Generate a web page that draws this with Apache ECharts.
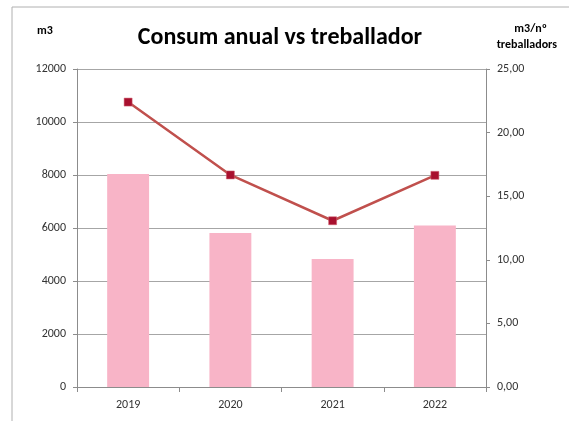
<!DOCTYPE html>
<html>
<head>
<meta charset="utf-8">
<script src="https://cdn.jsdelivr.net/npm/echarts@6/dist/echarts.min.js"></script>
<style>
  html, body { margin: 0; padding: 0; background: #fff; }
  #chart { width: 569px; height: 421px; }
</style>
</head>
<body>
<div id="chart"></div>
<script>
var years = ["2019", "2020", "2021", "2022"];
var consum = [8040, 5810, 4830, 6090];          // m3
var perWorker = [22.4, 16.67, 13.07, 16.64];    // m3/nº treballadors
var leftTicks = [0, 2000, 12000];               // min, interval, max
var rightTicks = [0, 5, 25];

var myChart = echarts.init(document.getElementById("chart"));
var font = "Carlito, Lato, 'Open Sans', sans-serif";

myChart.setOption({
  animation: false,
  textStyle: { fontFamily: font },
  graphic: [
    {
      type: "rect",
      shape: { x: 12, y: 7, width: 600, height: 450 },
      style: { fill: "none", stroke: "#b0b0b0", lineWidth: 1 },
      silent: true
    },
    {
      type: "text", left: 37, top: 25,
      style: { text: "m3", font: "bold 12px " + font, fill: "#000" }
    },
    {
      type: "text", right: 22, top: 23,
      style: { text: "m3/nº", font: "bold 12px " + font, fill: "#000", align: "right" }
    },
    {
      type: "text", right: 12, top: 39,
      style: { text: "treballadors", font: "bold 12px " + font, fill: "#000", align: "right" }
    }
  ],
  title: {
    text: "Consum anual vs treballador",
    left: 275, top: 21, textAlign: "center",
    textStyle: { fontSize: 24, fontWeight: "bold", color: "#000", fontFamily: font }
  },
  grid: { left: 77, right: 83, top: 69, bottom: 34 },
  xAxis: {
    type: "category",
    data: years,
    axisLine: { lineStyle: { color: "#8c8c8c" } },
    axisTick: { show: true, length: 5, lineStyle: { color: "#8c8c8c" } },
    axisLabel: { color: "#333", fontSize: 12, margin: 12 }
  },
  yAxis: [
    {
      type: "value",
      min: leftTicks[0], interval: leftTicks[1], max: leftTicks[2],
      axisLine: { show: true, lineStyle: { color: "#8c8c8c" } },
      axisTick: { show: true, length: 4, lineStyle: { color: "#8c8c8c" } },
      axisLabel: {
        color: "#333", fontSize: 12, margin: 11,
        formatter: function (v) { return String(v); }
      },
      splitLine: { show: true, lineStyle: { color: "#a6a6a6" } }
    },
    {
      type: "value",
      position: "right",
      min: rightTicks[0], interval: rightTicks[1], max: rightTicks[2],
      axisLine: { show: true, lineStyle: { color: "#8c8c8c" } },
      axisTick: { show: true, length: 4, lineStyle: { color: "#8c8c8c" } },
      axisLabel: {
        color: "#333", fontSize: 12, margin: 11,
        formatter: function (v) { return v.toFixed(2).replace(".", ","); }
      },
      splitLine: { show: false }
    }
  ],
  series: [
    {
      type: "bar",
      data: consum,
      barWidth: "41%",
      itemStyle: { color: "#f8b4c7" }
    },
    {
      type: "line",
      yAxisIndex: 1,
      data: perWorker,
      symbol: "rect",
      symbolSize: 8,
      lineStyle: { color: "#c0504d", width: 2.5 },
      itemStyle: { color: "#a8102e", borderColor: "#d06070", borderWidth: 0.5 }
    }
  ]
});
</script>
</body>
</html>
